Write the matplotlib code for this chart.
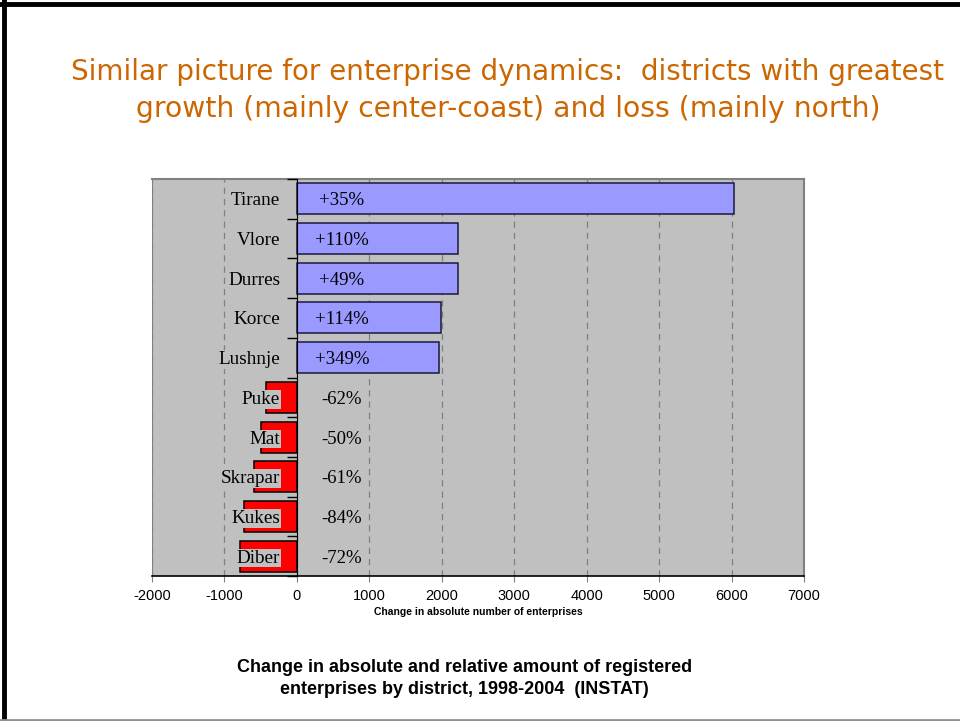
import matplotlib
matplotlib.use("Agg")
import matplotlib.pyplot as plt
from matplotlib.lines import Line2D

# districts, top to bottom
districts = ["Tirane", "Vlore", "Durres", "Korce", "Lushnje",
             "Puke", "Mat", "Skrapar", "Kukes", "Diber"]
change_abs = [6030, 2230, 2220, 1990, 1960, -430, -490, -590, -730, -780]
change_pct = ["+35%", "+110%", "+49%", "+114%", "+349%",
              "-62%", "-50%", "-61%", "-84%", "-72%"]
xticks = list(range(-2000, 7001, 1000))

fig = plt.figure(figsize=(9.6, 7.21), dpi=100)
fig.patch.set_facecolor("white")

# slide frame
fig.add_artist(Line2D([0.0, 1.0], [0.9945, 0.9945], color="black", lw=3.5, transform=fig.transFigure))
fig.add_artist(Line2D([0.0045, 0.0045], [0.0, 1.0], color="black", lw=3.5, transform=fig.transFigure))
fig.add_artist(Line2D([0.0, 1.0], [0.002, 0.002], color="#909090", lw=2, transform=fig.transFigure))

fig.text(0.529, 0.889, "Similar picture for enterprise dynamics:  districts with greatest",
         ha="center", va="baseline", color="#cc6600", fontsize=20, family="DejaVu Sans")
fig.text(0.529, 0.838, "growth (mainly center-coast) and loss (mainly north)",
         ha="center", va="baseline", color="#cc6600", fontsize=20.3, family="DejaVu Sans")

ax = fig.add_axes([0.1583, 0.2011, 0.6792, 0.5506])
ax.set_facecolor("#c0c0c0")

ypos = list(range(len(districts)))
colors = ["#9999ff" if v > 0 else "#ff0000" for v in change_abs]
edges = ["#1a1a40" if v > 0 else "black" for v in change_abs]
ax.barh(ypos, change_abs, height=0.78, color=colors, edgecolor=edges, linewidth=1.1, zorder=3)

for y, txt in zip(ypos, change_pct):
    ax.text(620, y + 0.05, txt, ha="center", va="center", fontsize=13.5,
            family="Liberation Serif", zorder=5)

ax.set_xlim(-2000, 7000)
ax.set_ylim(len(districts) - 0.5, -0.5)
ax.set_xticks(xticks)
ax.set_xticklabels([str(t) for t in xticks], family="Liberation Sans", fontsize=10.5)
ax.tick_params(axis="x", direction="out", length=4, width=0.8, color="#808080", pad=5)
ax.set_xlabel("Change in absolute number of enterprises", family="Liberation Sans",
              fontsize=7.5, fontweight="bold", labelpad=3)

# category axis sits on zero, labels drawn over the loss bars
ax.spines["left"].set_position(("data", 0))
ax.spines["left"].set_zorder(4)
ax.set_yticks(ypos)
ax.set_yticklabels(districts, family="Liberation Serif", fontsize=13.8)
ax.set_yticks([y - 0.5 for y in range(len(districts) + 1)], minor=True)
ax.tick_params(axis="y", which="major", length=0, pad=12)
ax.tick_params(axis="y", which="minor", length=7, width=1, direction="out")
for lab in ax.get_yticklabels():
    lab.set_bbox(dict(facecolor="#c0c0c0", edgecolor="none", pad=0.5))
ax.yaxis.set_zorder(4)

ax.grid(axis="x", color="#808080", linestyle=(0, (5, 4)), linewidth=0.9, zorder=1)
ax.xaxis.set_zorder(1)
ax.axvline(-2000, color="#808080", lw=1.5, zorder=2)
ax.spines["top"].set_color("#808080")
ax.spines["right"].set_color("#808080")
ax.spines["top"].set_linewidth(1.5)
ax.spines["right"].set_linewidth(1.5)
ax.spines["bottom"].set_color("black")
ax.spines["bottom"].set_linewidth(1.2)

fig.text(0.484, 0.0585, "Change in absolute and relative amount of registered\n"
         "enterprises by district, 1998-2004  (INSTAT)",
         ha="center", va="center", family="Liberation Sans", fontsize=13,
         fontweight="bold", linespacing=1.4)

fig.savefig("out.png", dpi=100)
